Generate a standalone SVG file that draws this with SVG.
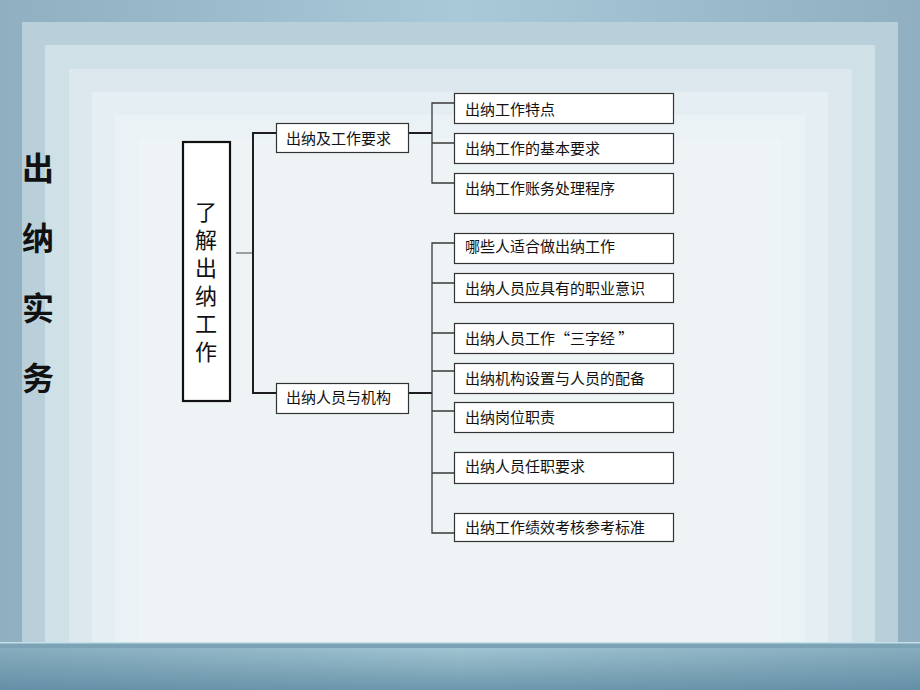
<svg xmlns="http://www.w3.org/2000/svg" width="920" height="690" viewBox="0 0 920 690">
<defs>
<linearGradient id="outer" x1="0" y1="0" x2="1" y2="0">
<stop offset="0" stop-color="#90afc1"/>
<stop offset="0.5" stop-color="#a8cad8"/>
<stop offset="1" stop-color="#90afc1"/>
</linearGradient>
<linearGradient id="bottom" x1="0" y1="0" x2="0" y2="1">
<stop offset="0" stop-color="#a6cad6"/>
<stop offset="1" stop-color="#6c97ac"/>
</linearGradient>
<linearGradient id="bottomH" x1="0" y1="0" x2="1" y2="0">
<stop offset="0" stop-color="#56809a" stop-opacity="0.35"/>
<stop offset="0.5" stop-color="#56809a" stop-opacity="0"/>
<stop offset="1" stop-color="#56809a" stop-opacity="0.35"/>
</linearGradient>
<style>
.box{fill:#ffffff;stroke:#333333;stroke-width:1.2}
.t{font-family:"Noto Sans CJK SC","Noto Sans",sans-serif;font-size:15px;fill:#111111}
.thick{stroke:#1e1e1e;stroke-width:2;fill:none}
.thin{stroke:#3a3a3a;stroke-width:1.3;fill:none}
.gray{stroke:#666666;stroke-width:1.2;fill:none}
.vert{font-family:"Noto Sans CJK SC",sans-serif;fill:#111111;writing-mode:vertical-rl}
</style>
</defs>
<g id="background">
<rect x="0" y="0" width="920" height="690" fill="url(#outer)"/>
<rect x="22" y="22" width="876" height="630" fill="#b9d0da"/>
<rect x="45" y="45" width="830" height="600" fill="#cfe0e7"/>
<rect x="69" y="69" width="783" height="580" fill="#dce8ed"/>
<rect x="92" y="92" width="736" height="560" fill="#e5eef2"/>
<rect x="115" y="115" width="690" height="540" fill="#ebf2f5"/>
<rect x="138" y="138" width="644" height="520" fill="#eef4f6"/>
<rect x="0" y="643" width="920" height="47" fill="url(#bottom)"/>
<rect x="0" y="643" width="920" height="47" fill="url(#bottomH)"/>
<rect x="0" y="643" width="920" height="5" fill="#7ba2b5"/>
<rect x="0" y="642" width="920" height="1.5" fill="#c4e0e8"/>
</g>
<g id="title">
<text class="vert" x="38" y="152" font-size="32" font-weight="bold" letter-spacing="38">出纳实务</text>
</g>
<g id="connectors">
<path class="gray" d="M236 253 H253"/>
<path class="thick" d="M276 133 H253 V393 H276"/>
<path class="thick" d="M409 133 H432"/>
<path class="thick" d="M409 393 H432"/>
<path class="thin" d="M455 103 H432 V183 H455 M432 143 H455"/>
<path class="thin" d="M455 243 H432 V533 H455 M432 283 H455 M432 333 H455 M432 371 H455 M432 411 H455 M432 473 H455"/>
</g>
<g id="root">
<rect x="183" y="142" width="47" height="259" fill="#ffffff" stroke="#111" stroke-width="2.2"/>
<text class="vert" x="206" y="201" font-size="22" letter-spacing="6">了解出纳工作</text>
</g>
<g id="n-req">
<rect class="box" x="276.5" y="123.5" width="132" height="29"/>
<text class="t" x="286" y="144">出纳及工作要求</text>
</g>
<g id="n-staff">
<rect class="box" x="276.5" y="383.5" width="132" height="30"/>
<text class="t" x="286" y="403">出纳人员与机构</text>
</g>
<g id="n1">
<rect class="box" x="454.5" y="93.5" width="219" height="30"/>
<text class="t" x="465" y="115">出纳工作特点</text>
</g>
<g id="n2">
<rect class="box" x="454.5" y="133.5" width="219" height="30"/>
<text class="t" x="465" y="153.5">出纳工作的基本要求</text>
</g>
<g id="n3">
<rect class="box" x="454.5" y="173.5" width="219" height="40"/>
<text class="t" x="465" y="193.5">出纳工作账务处理程序</text>
</g>
<g id="n4">
<rect class="box" x="454.5" y="233.5" width="219" height="30"/>
<text class="t" x="465" y="252">哪些人适合做出纳工作</text>
</g>
<g id="n5">
<rect class="box" x="454.5" y="273.5" width="219" height="29"/>
<text class="t" x="465" y="293.5">出纳人员应具有的职业意识</text>
</g>
<g id="n6">
<rect class="box" x="454.5" y="323.5" width="219" height="30"/>
<text class="t" x="465" y="343.5">出纳人员工作“三字经 ”</text>
</g>
<g id="n7">
<rect class="box" x="454.5" y="363.5" width="219" height="30"/>
<text class="t" x="465" y="384">出纳机构设置与人员的配备</text>
</g>
<g id="n8">
<rect class="box" x="454.5" y="402.5" width="219" height="30"/>
<text class="t" x="465" y="422.5">出纳岗位职责</text>
</g>
<g id="n9">
<rect class="box" x="454.5" y="452.5" width="219" height="31"/>
<text class="t" x="465" y="472">出纳人员任职要求</text>
</g>
<g id="n10">
<rect class="box" x="454.5" y="513.5" width="219" height="28"/>
<text class="t" x="465" y="532.5">出纳工作绩效考核参考标准</text>
</g>
</svg>
